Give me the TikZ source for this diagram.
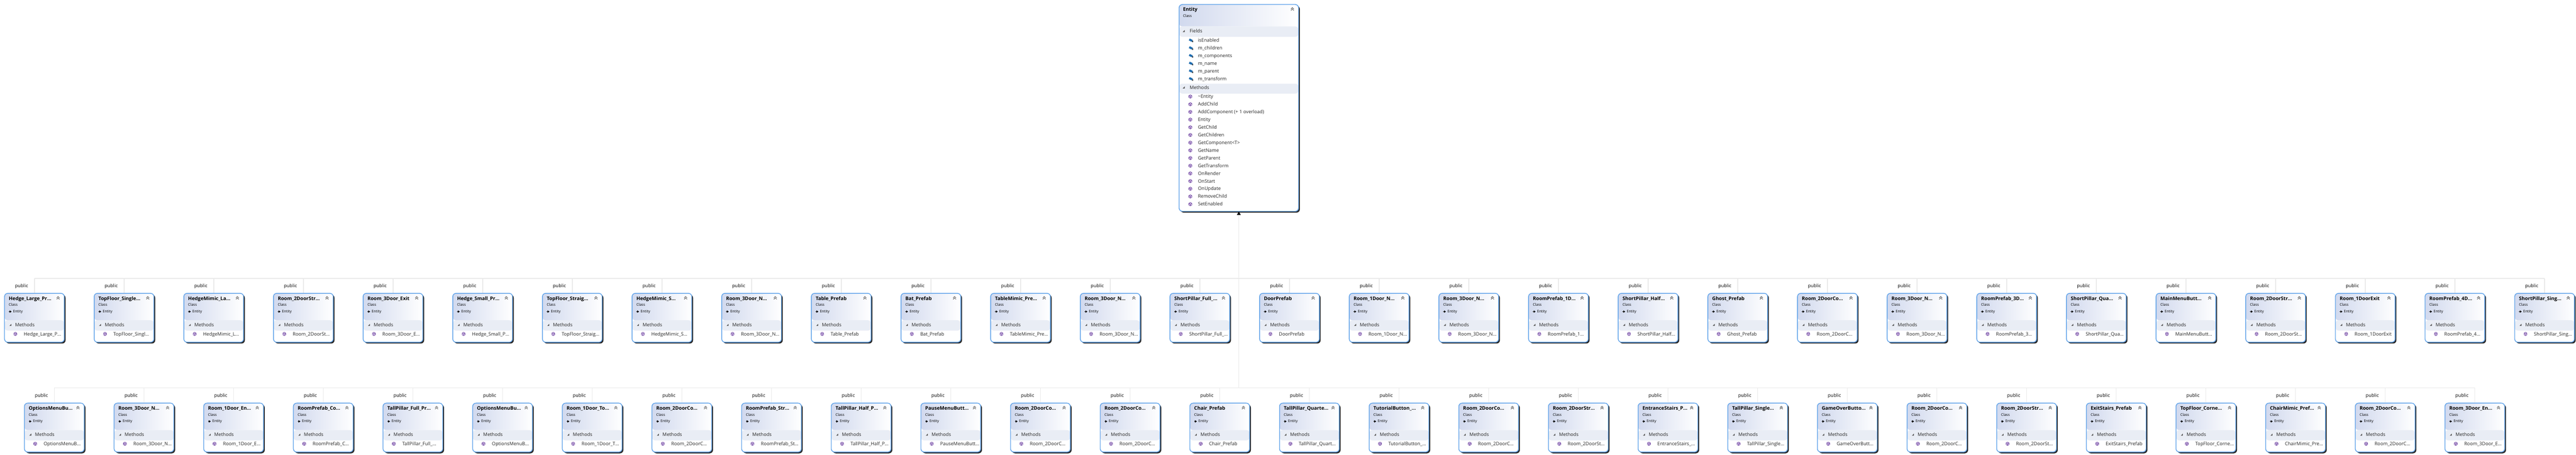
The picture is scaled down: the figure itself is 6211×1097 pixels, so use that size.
\documentclass[tikz,border=0pt]{standalone}
\usepackage{fontspec}
\setmainfont{Open Sans}
\usetikzlibrary{calc,positioning,arrows.meta,shadows}

\definecolor{boxblue}{HTML}{62A4EA}
\definecolor{hdblue}{HTML}{D1D9EE}
\definecolor{bandgray}{HTML}{E9EDF5}
\definecolor{shadowgray}{HTML}{2A2A2A}
\definecolor{busgray}{HTML}{EAEAEA}
\definecolor{mpurple}{HTML}{6A3D9E}
\definecolor{mfill}{HTML}{EFE7F8}
\definecolor{fblue}{HTML}{1F6DB0}

\tikzset{
  prefab/.style={draw=boxblue, fill=white, line width=0.9pt, rounded corners=4pt,
    minimum width=72pt, minimum height=59pt, inner sep=0pt, anchor=north west,
    general shadow={fill=shadowgray, shadow xshift=1.6pt, shadow yshift=-1.6pt},
    path picture={
      \shade[left color=hdblue, right color=white] (path picture bounding box.north west) rectangle ([shift={(0,65)}]path picture bounding box.north east);
      \fill[bandgray] ([shift={(0,65)}]path picture bounding box.north west) rectangle ([shift={(0,90)}]path picture bounding box.north east);
    }},
  entbox/.style={draw=boxblue, fill=white, line width=0.9pt, rounded corners=4pt,
    minimum width=144pt, minimum height=249.5pt, inner sep=0pt, anchor=north west,
    general shadow={fill=shadowgray, shadow xshift=1.6pt, shadow yshift=-1.6pt},
    path picture={
      \shade[left color=hdblue, right color=white] (path picture bounding box.north west) rectangle ([shift={(0,53)}]path picture bounding box.north east);
      \fill[bandgray] ([shift={(0,53)}]path picture bounding box.north west) rectangle ([shift={(0,78)}]path picture bounding box.north east);
      \fill[bandgray] ([shift={(0,191)}]path picture bounding box.north west) rectangle ([shift={(0,215)}]path picture bounding box.north east);
    }},
  ttl/.style={font=\bfseries\fontsize{5.9}{7}\selectfont, inner sep=0pt, anchor=base west},
  sub/.style={font=\fontsize{4.4}{5}\selectfont, inner sep=0pt, anchor=base west},
  txt/.style={font=\fontsize{5.7}{7}\selectfont, text=black!85, inner sep=0pt, anchor=base west},
  pub/.style={font=\fontsize{5.6}{7}\selectfont, inner sep=0pt},
  bus/.style={draw=busgray, line width=1pt},
  inharrow/.style={line width=0.45pt, -{Triangle[length=2.4pt,width=2.8pt]}},
  methodicon/.pic={
    \draw[mpurple, fill=mfill, line width=0.5pt] (0,-4) -- (3.5,-2) -- (3.5,2) -- (0,4) -- (-3.5,2) -- (-3.5,-2) -- cycle;
    \draw[mpurple, line width=0.5pt] (-3.5,-2) -- (0,0) -- (3.5,-2) (0,0) -- (0,4);
  },
  fieldicon/.pic={
    \fill[fblue, rotate=-25] (-4,-2.5) rectangle (4,2.5);
    \fill[black!70] (3,1.5) rectangle (6.5,5);
  },
  collapse/.pic={
    \fill[black!65] (2.5,-2.5) -- (2.5,2.5) -- (-2.5,2.5) -- cycle;
  },
  chev/.pic={
    \draw[black!60, line width=0.6pt] (-3.5,0) -- (0,-3.5) -- (3.5,0) (-3.5,3.5) -- (0,0) -- (3.5,3.5);
  }
}

% 一個衍生類別的方框
\newcommand{\prefabbox}[5]{%
  \node[prefab] (#1) at (#2,#3) {};
  \node[ttl] (#1t) at ([shift={(11,18)}]#1.north west) {#4};
  \node[sub] (#1c) at ([shift={(11,32)}]#1.north west) {Class};
  \draw[inharrow] ([shift={(11,45)}]#1.north west) -- ++(7,0) coordinate (#1a);
  \node[sub, right=1.6pt of #1a] (#1e) {Entity};
  \pic at ([shift={(130,12)}]#1.north west) {chev};
  \pic at ([shift={(15,77)}]#1.north west) {collapse};
  \node[txt] (#1m) at ([shift={(26,81)}]#1.north west) {Methods};
  \pic at ([shift={(27,99)}]#1.north west) {methodicon};
  \node[txt] (#1k) at ([shift={(47,103)}]#1.north west) {#5};
  \node[pub] (#1p) at ([shift={(42,-16)}]#1.north west) {public};
}

\begin{document}
\begin{tikzpicture}[x=0.5pt,y=-0.5pt]
  \useasboundingbox (0,0) rectangle (6211,1097);
  \fill[white] (0,0) rectangle (6211,1097);

  %基底類別 Entity
  \node[entbox] (entity) at (2842,10) {};
  \node[ttl] (entt) at ([shift={(10,17)}]entity.north west) {Entity};
  \node[sub] (entc) at ([shift={(10,32)}]entity.north west) {Class};
  \pic at ([shift={(274,12)}]entity.north west) {chev};
  \pic at ([shift={(12,65)}]entity.north west) {collapse};
  \node[txt] (entf) at ([shift={(26,69)}]entity.north west) {Fields};
  \foreach \fname [count=\k from 0] in {isEnabled, m\_children, m\_components, m\_name, m\_parent, m\_transform}{
    \pic at ([shift={(29,87+18.6*\k)}]entity.north west) {fieldicon};
    \node[txt] (fld\k) at ([shift={(46,91+18.6*\k)}]entity.north west) {\fname};
  }
  \pic at ([shift={(12,201)}]entity.north west) {collapse};
  \node[txt] (entm) at ([shift={(26,205)}]entity.north west) {Methods};
  \foreach \mname [count=\k from 0] in {\textasciitilde Entity, AddChild, AddComponent (+ 1 overload), Entity, GetChild, GetChildren, GetComponent<T>, GetName, GetParent, GetTransform, OnRender, OnStart, OnUpdate, RemoveChild, SetEnabled}{
    \pic at ([shift={(28,223+18.55*\k)}]entity.north west) {methodicon};
    \node[txt] (mth\k) at ([shift={(46,227+18.55*\k)}]entity.north west) {\mname};
  }

  \coordinate (busa) at (0,672);
  \coordinate (busb) at (0,936);

  %第一排
  \foreach \ptitle/\pctor [count=\i from 0] in {
    Hedge\_Large\_Pr…/Hedge\_Large\_P…,
    TopFloor\_Single…/TopFloor\_Singl…,
    HedgeMimic\_La…/HedgeMimic\_L…,
    Room\_2DoorStr…/Room\_2DoorSt…,
    Room\_3Door\_Exit/Room\_3Door\_E…,
    Hedge\_Small\_Pr…/Hedge\_Small\_P…,
    TopFloor\_Straig…/TopFloor\_Straig…,
    HedgeMimic\_S…/HedgeMimic\_S…,
    Room\_3Door\_N…/Room\_3Door\_N…,
    Table\_Prefab/Table\_Prefab,
    Bat\_Prefab/Bat\_Prefab,
    TableMimic\_Pre…/TableMimic\_Pre…,
    Room\_3Door\_N…/Room\_3Door\_N…,
    ShortPillar\_Full\_…/ShortPillar\_Full\_…,
    DoorPrefab/DoorPrefab,
    Room\_1Door\_N…/Room\_1Door\_N…,
    Room\_3Door\_N…/Room\_3Door\_N…,
    RoomPrefab\_1D…/RoomPrefab\_1…,
    ShortPillar\_Half…/ShortPillar\_Half…,
    Ghost\_Prefab/Ghost\_Prefab,
    Room\_2DoorCo…/Room\_2DoorC…,
    Room\_3Door\_N…/Room\_3Door\_N…,
    RoomPrefab\_3D…/RoomPrefab\_3…,
    ShortPillar\_Qua…/ShortPillar\_Qua…,
    MainMenuButt…/MainMenuButt…,
    Room\_2DoorStr…/Room\_2DoorSt…,
    Room\_1DoorExit/Room\_1DoorExit,
    RoomPrefab\_4D…/RoomPrefab\_4…,
    ShortPillar\_Sing…/ShortPillar\_Sing…}{
    \pgfmathsetmacro\bx{10+216.15*\i}
    \prefabbox{a\i}{\bx}{707}{\ptitle}{\pctor}
    \draw[bus] (a\i.north) -- (a\i.north |- busa);
  }

  %第二排
  \foreach \ptitle/\pctor [count=\i from 0] in {
    OptionsMenuBu…/OptionsMenuB…,
    Room\_3Door\_N…/Room\_3Door\_N…,
    Room\_1Door\_En…/Room\_1Door\_E…,
    RoomPrefab\_Co…/RoomPrefab\_C…,
    TallPillar\_Full\_Pr…/TallPillar\_Full\_…,
    OptionsMenuBu…/OptionsMenuB…,
    Room\_1Door\_To…/Room\_1Door\_T…,
    Room\_2DoorCo…/Room\_2DoorC…,
    RoomPrefab\_Str…/RoomPrefab\_St…,
    TallPillar\_Half\_P…/TallPillar\_Half\_P…,
    PauseMenuButt…/PauseMenuButt…,
    Room\_2DoorCo…/Room\_2DoorC…,
    Room\_2DoorCo…/Room\_2DoorC…,
    Chair\_Prefab/Chair\_Prefab,
    TallPillar\_Quarte…/TallPillar\_Quart…,
    TutorialButton\_…/TutorialButton\_…,
    Room\_2DoorCo…/Room\_2DoorC…,
    Room\_2DoorStr…/Room\_2DoorSt…,
    EntranceStairs\_P…/EntranceStairs\_…,
    TallPillar\_Single…/TallPillar\_Single…,
    GameOverButto…/GameOverButt…,
    Room\_2DoorCo…/Room\_2DoorC…,
    Room\_2DoorStr…/Room\_2DoorSt…,
    ExitStairs\_Prefab/ExitStairs\_Prefab,
    TopFloor\_Corne…/TopFloor\_Corne…,
    ChairMimic\_Pref…/ChairMimic\_Pre…,
    Room\_2DoorCo…/Room\_2DoorC…,
    Room\_3Door\_En…/Room\_3Door\_E…}{
    \pgfmathsetmacro\bx{58+216.15*\i}
    \prefabbox{b\i}{\bx}{972}{\ptitle}{\pctor}
    \draw[bus] (b\i.north) -- (b\i.north |- busb);
  }

  %連接線
  \draw[bus] (a0.north |- busa) -- (a28.north |- busa);
  \draw[bus] (b0.north |- busb) -- (b27.north |- busb);
  \draw[bus, {Triangle[color=black,length=4pt,width=4.5pt]}-] (entity.south) -- (entity.south |- busb);
\end{tikzpicture}
\end{document}
